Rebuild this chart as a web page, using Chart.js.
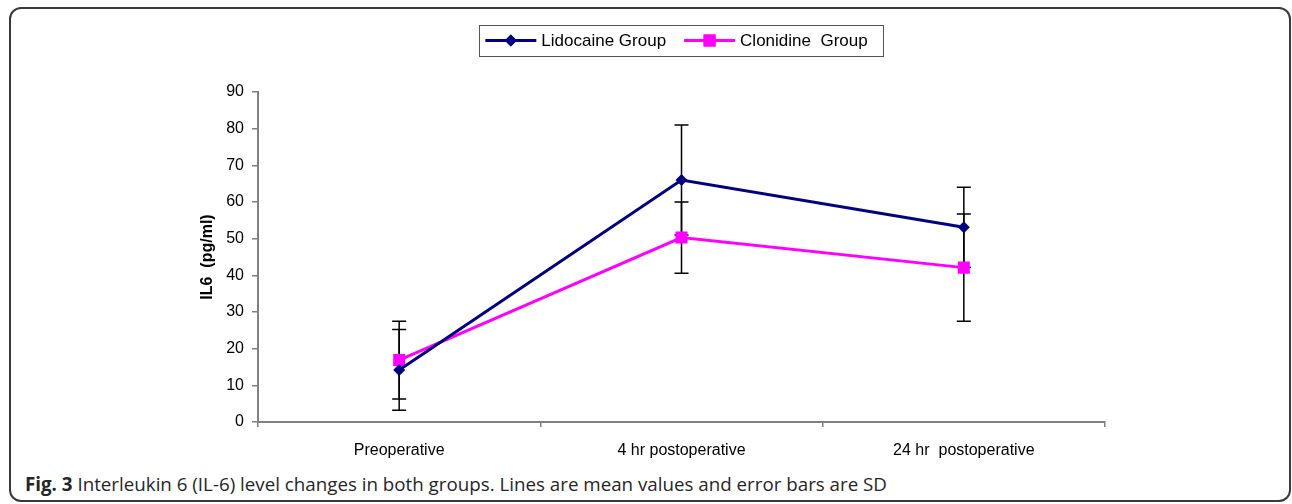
<!DOCTYPE html>
<html lang="en">
<head>
    <meta charset="UTF-8">
    <title>IL-6 level changes</title>
    <script src="https://cdn.jsdelivr.net/npm/chart.js"></script>
    <style>
        body {
            margin: 0;
            width: 1292px;
            height: 504px;
            overflow: hidden;
            position: relative;
            background: #fff;
        }
        .frame {
            position: absolute;
            left: 9px;
            top: 7px;
            width: 1278px;
            height: 491px;
            border: 2px solid #3a3a3a;
            border-radius: 12px;
        }
        .chart-box {
            position: absolute;
            left: 0;
            top: 0;
            width: 1292px;
            height: 470px;
        }
        .caption {
            position: absolute;
            left: 25px;
            top: 471px;
            font-family: "Open Sans", sans-serif;
            font-size: 18.75px;
            line-height: 26px;
            color: #262626;
            white-space: nowrap;
        }
    </style>
</head>
<body>
    <div class="frame"></div>
    <div class="chart-box">
        <canvas id="il6Chart"></canvas>
    </div>
    <div class="caption"><b>Fig. 3</b> Interleukin 6 (IL-6) level changes in both groups. Lines are mean values and error bars are SD</div>

    <script>
        // Data
        const timepoints = ['Preoperative', '4 hr postoperative', '24 hr  postoperative'];
        const lidocaineMean = [14.2, 66.0, 53.1];
        const lidocaineSD = [11.0, 15.0, 10.9];
        const clonidineMean = [16.9, 50.3, 42.1];
        const clonidineSD = [10.6, 9.7, 14.6];
        const yTicks = [0, 10, 20, 30, 40, 50, 60, 70, 80, 90];

        const FONT = '"Liberation Sans", Arial, sans-serif';

        // Vertical SD bars with caps, drawn under the lines
        const errorBars = {
            id: 'errorBars',
            beforeDatasetsDraw(chart) {
                const ctx = chart.ctx;
                const y = chart.scales.y;
                ctx.save();
                ctx.strokeStyle = '#000';
                ctx.lineWidth = 1.5;
                chart.data.datasets.forEach((ds, i) => {
                    chart.getDatasetMeta(i).data.forEach((pt, j) => {
                        const hi = y.getPixelForValue(ds.data[j] + ds.sd[j]);
                        const lo = y.getPixelForValue(ds.data[j] - ds.sd[j]);
                        ctx.beginPath();
                        ctx.moveTo(pt.x, hi); ctx.lineTo(pt.x, lo);
                        ctx.moveTo(pt.x - 7, hi); ctx.lineTo(pt.x + 7, hi);
                        ctx.moveTo(pt.x - 7, lo); ctx.lineTo(pt.x + 7, lo);
                        ctx.stroke();
                    });
                });
                ctx.restore();
            }
        };

        // Boxed legend with line + marker samples, centred over the plot
        const boxedLegend = {
            id: 'boxedLegend',
            afterDraw(chart) {
                const ctx = chart.ctx;
                const area = chart.chartArea;
                ctx.save();
                ctx.font = '17px ' + FONT;
                const items = chart.data.datasets.map(ds => ({ ds, w: ctx.measureText(ds.label).width }));
                const sample = 51, gap = 5, padL = 6, padR = 16, between = 18;
                const total = items.reduce((s, it) => s + sample + gap + it.w, 0) + between * (items.length - 1) + padL + padR;
                const boxTop = 25, boxH = 31;
                let x = (area.left + area.right) / 2 - total / 2;
                ctx.strokeStyle = '#555';
                ctx.lineWidth = 1;
                ctx.strokeRect(Math.round(x) + 0.5, boxTop + 0.5, Math.round(total), boxH);
                const cy = boxTop + boxH / 2;
                x += padL;
                items.forEach(it => {
                    ctx.strokeStyle = it.ds.borderColor;
                    ctx.lineWidth = 3;
                    ctx.beginPath();
                    ctx.moveTo(x, cy); ctx.lineTo(x + sample, cy);
                    ctx.stroke();
                    ctx.fillStyle = it.ds.borderColor;
                    Chart.helpers.drawPoint(ctx, {
                        pointStyle: it.ds.pointStyle,
                        radius: it.ds.pointRadius,
                        rotation: 0,
                        borderWidth: 0
                    }, x + sample / 2, cy);
                    ctx.fill();
                    ctx.fillStyle = '#000';
                    ctx.textBaseline = 'middle';
                    ctx.fillText(it.ds.label, x + sample + gap, cy + 1);
                    x += sample + gap + it.w + between;
                });
                ctx.restore();
            }
        };

        new Chart(document.getElementById('il6Chart'), {
            type: 'line',
            data: {
                labels: timepoints,
                datasets: [
                    {
                        label: 'Lidocaine Group',
                        data: lidocaineMean,
                        sd: lidocaineSD,
                        borderColor: '#000080',
                        backgroundColor: '#000080',
                        borderWidth: 3,
                        pointStyle: 'rectRot',
                        pointRadius: 6,
                        pointBorderWidth: 0,
                        tension: 0
                    },
                    {
                        label: 'Clonidine  Group',
                        data: clonidineMean,
                        sd: clonidineSD,
                        borderColor: '#FF00FF',
                        backgroundColor: '#FF00FF',
                        borderWidth: 3,
                        pointStyle: 'rect',
                        pointRadius: 8.5,
                        pointBorderWidth: 0,
                        tension: 0
                    }
                ]
            },
            options: {
                responsive: true,
                maintainAspectRatio: false,
                animation: false,
                layout: { padding: { top: 92, left: 198, right: 187, bottom: 0 } },
                plugins: {
                    legend: { display: false },
                    tooltip: { enabled: false }
                },
                scales: {
                    x: {
                        offset: true,
                        grid: { offset: true, drawOnChartArea: false, tickLength: 5, color: '#808080', lineWidth: 1.5 },
                        border: { color: '#808080', width: 2 },
                        ticks: { color: '#000', font: { family: FONT, size: 16 }, padding: 14, maxRotation: 0 },
                        afterFit(scale) { scale.height = 48; }
                    },
                    y: {
                        min: 0,
                        max: 90,
                        afterBuildTicks(scale) { scale.ticks = yTicks.map(v => ({ value: v })); },
                        grid: { drawOnChartArea: false, tickLength: 6, color: '#808080', lineWidth: 1.5 },
                        border: { color: '#808080', width: 2 },
                        ticks: { color: '#000', font: { family: FONT, size: 16 }, padding: 8 },
                        title: {
                            display: true,
                            text: 'IL6  (pg/ml)',
                            color: '#000',
                            font: { family: FONT, size: 16, weight: 'bold' },
                            padding: { top: 0, bottom: 0 }
                        },
                        afterFit(scale) { scale.width = 60; }
                    }
                }
            },
            plugins: [errorBars, boxedLegend]
        });
    </script>
</body>
</html>
